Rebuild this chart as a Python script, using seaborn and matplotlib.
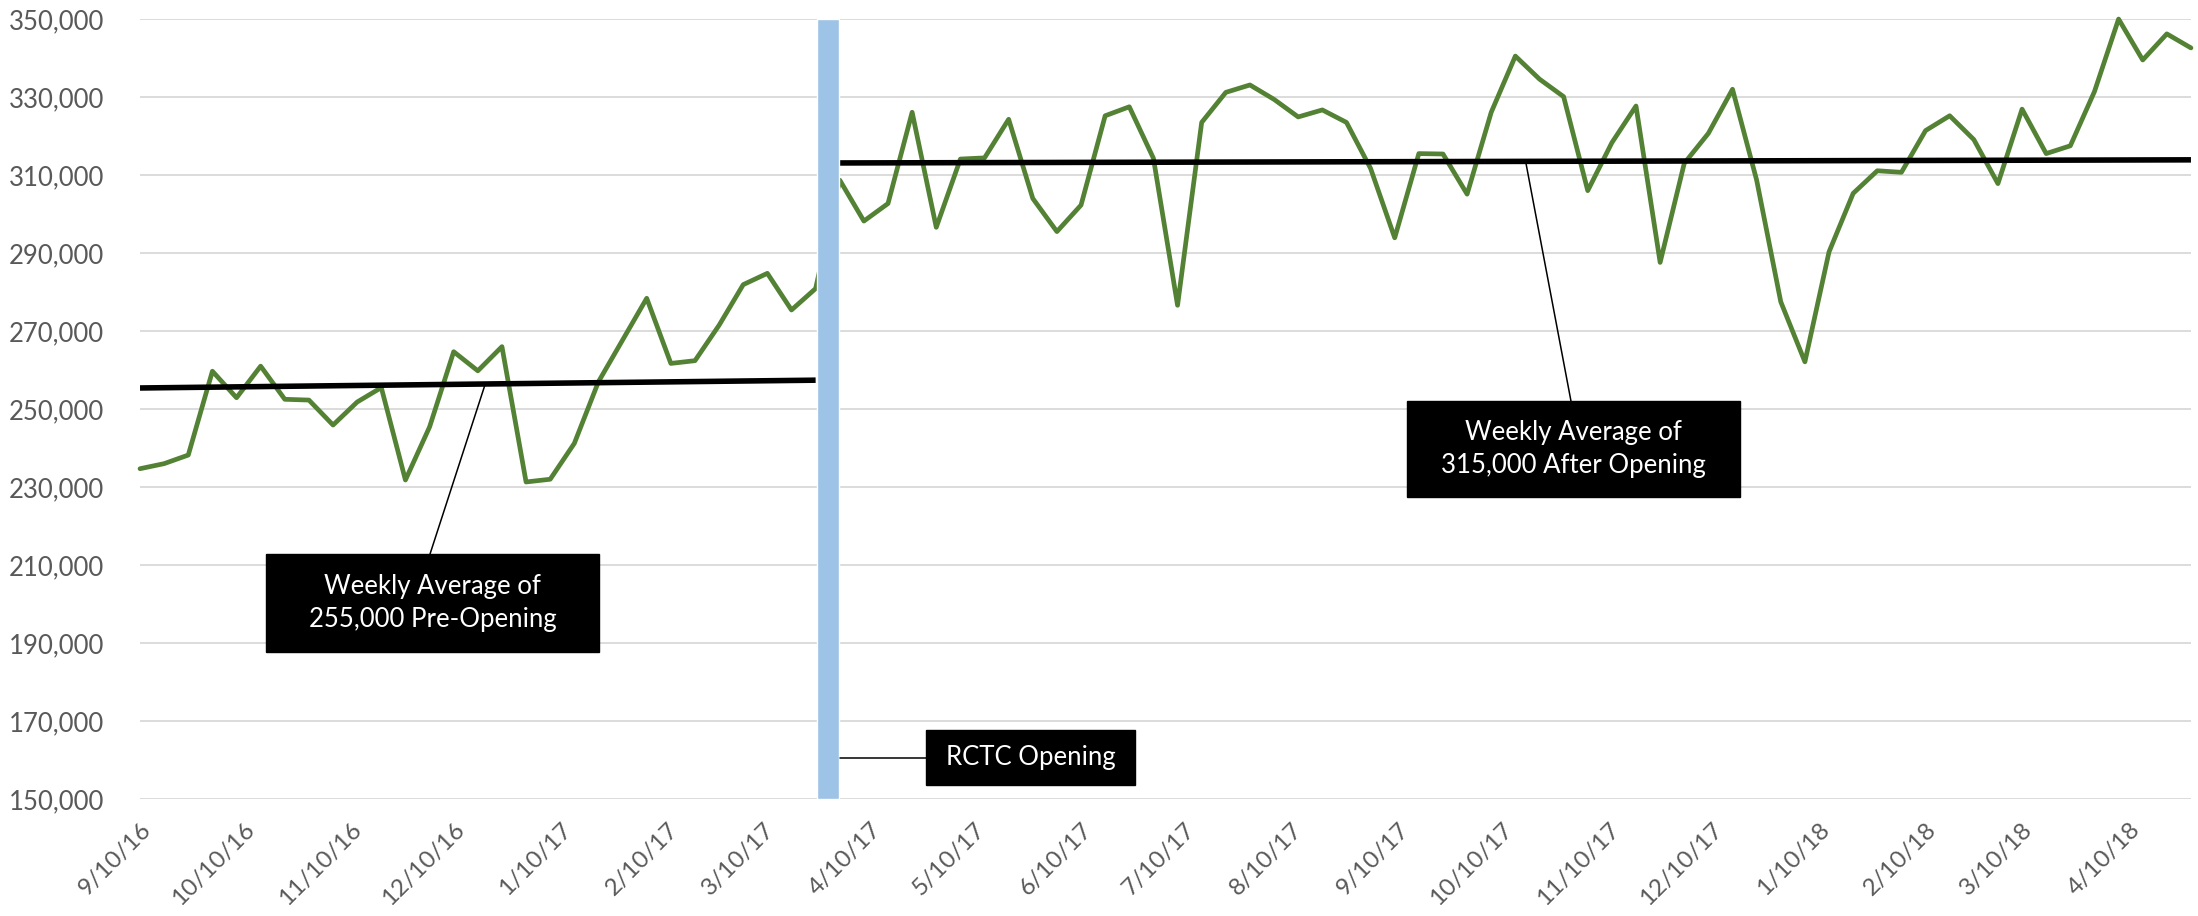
import pandas as pd
import matplotlib.pyplot as plt
import matplotlib.dates as mdates
import seaborn as sns
from matplotlib.patches import Rectangle

# Weekly ridership (one value per week)
riders = [234700, 236000, 238200, 259700, 252900, 261000, 252500, 252300, 245900, 251800,
          255500, 231800, 245400, 264700, 259800, 266000, 231300, 232000, 241200, 257000,
          267700, 278400, 261700, 262400, 271500, 281900, 284800, 275400, 280900,
          308700, 298200, 302700, 326100, 296600, 314100, 314400, 324300, 304000, 295500,
          302300, 325200, 327500, 314300, 276600, 323500, 331200, 333100, 329400, 324900,
          326700, 323500, 311700, 293900, 315500, 315400, 305100, 326100, 340500, 334600,
          330100, 306000, 318300, 327700, 287600, 313000, 320700, 332000, 308700, 277500,
          262100, 290300, 305300, 311100, 310700, 321400, 325200, 319100, 307800, 326900,
          315500, 317500, 331400, 350000, 339500, 346200, 342600]
first_week = '2016-09-10'
opening_date = '2017-03-28 12:00'

# trend lines (start, end) before and after the opening
pre_trend = [255400, 257400]
post_trend = [313100, 313900]

tick_labels = ['9/10/16', '10/10/16', '11/10/16', '12/10/16', '1/10/17', '2/10/17', '3/10/17',
               '4/10/17', '5/10/17', '6/10/17', '7/10/17', '8/10/17', '9/10/17', '10/10/17',
               '11/10/17', '12/10/17', '1/10/18', '2/10/18', '3/10/18', '4/10/18']
y_ticks = list(range(150000, 350001, 20000))

weeks = pd.date_range(first_week, periods=len(riders), freq='7D')
df = pd.DataFrame({'week': weeks, 'riders': riders})
opening = pd.Timestamp(opening_date)
before = df[df['week'] < opening]
after = df[df['week'] > opening]

sns.set_style('white')
plt.rcParams['font.family'] = ['Lato', 'DejaVu Sans']

fig = plt.figure(figsize=(21.98, 9.16), dpi=100)
ax = fig.add_axes([0.0637, 0.1277, 0.9331, 0.8515])

sns.lineplot(data=df, x='week', y='riders', color='#548235', lw=3.4, ax=ax, zorder=3, clip_on=False)
ax.plot([before['week'].iloc[0], before['week'].iloc[-1]], pre_trend, color='black', lw=4, zorder=4,
        solid_capstyle='butt')
ax.plot([after['week'].iloc[0], after['week'].iloc[-1]], post_trend, color='black', lw=4, zorder=4,
        solid_capstyle='butt')
ax.bar(opening, y_ticks[-1] - y_ticks[0], bottom=y_ticks[0], width=6.3, color='#9DC3E6', zorder=5)

ax.set_xlim(weeks[0], weeks[-1])
ax.set_ylim(y_ticks[0], y_ticks[-1])
ax.set_yticks(y_ticks)
ax.set_yticklabels([f'{v:,}' for v in y_ticks])
ax.yaxis.grid(True, color='#D9D9D9', lw=1.3)
ax.set_axisbelow(True)
for s in ax.spines.values():
    s.set_visible(False)

tick_dates = pd.to_datetime(tick_labels, format='%m/%d/%y')
ax.set_xticks(tick_dates)
ax.set_xticklabels(tick_labels, rotation=45, ha='right', rotation_mode='anchor')
ax.tick_params(axis='y', length=0, pad=26, labelsize=18.5, labelcolor='#595959')
ax.tick_params(axis='x', length=10, width=1.3, color='#D9D9D9', pad=4, labelsize=17.5,
               labelcolor='#595959')
ax.set_xlabel('')
ax.set_ylabel('')

# annotation boxes (axes fraction: x0, y0, x1, y1)
boxes = [((0.0614, 0.1885, 0.2238, 0.3141), 'Weekly Average of\n255,000 Pre-Opening'),
         ((0.6178, 0.3872, 0.7801, 0.5103), 'Weekly Average of\n315,000 After Opening'),
         ((0.3832, 0.0179, 0.4851, 0.0885), 'RCTC Opening')]
for (x0, y0, x1, y1), txt in boxes:
    ax.add_patch(Rectangle((x0, y0), x1 - x0, y1 - y0, transform=ax.transAxes,
                           color='black', zorder=7, clip_on=False))
    ax.text((x0 + x1) / 2, (y0 + y1) / 2, txt, transform=ax.transAxes, color='white',
            ha='center', va='center', fontsize=18.5, linespacing=1.4, zorder=8)

line_kw = dict(arrowstyle='-', color='black', lw=1.1, shrinkA=0, shrinkB=0)
ax.annotate('', xy=(mdates.date2num(pd.Timestamp('2016-12-19')), 256000),
            xytext=(0.1414, 0.3141), textcoords='axes fraction', arrowprops=line_kw, zorder=6)
ax.annotate('', xy=(mdates.date2num(pd.Timestamp('2017-10-17')), 313400),
            xytext=(0.6977, 0.5103), textcoords='axes fraction', arrowprops=line_kw, zorder=6)
ax.annotate('', xy=(0.3413, 0.0526), xycoords='axes fraction',
            xytext=(0.3832, 0.0526), textcoords='axes fraction', arrowprops=line_kw, zorder=6)

fig.savefig('out.png', dpi=100)
